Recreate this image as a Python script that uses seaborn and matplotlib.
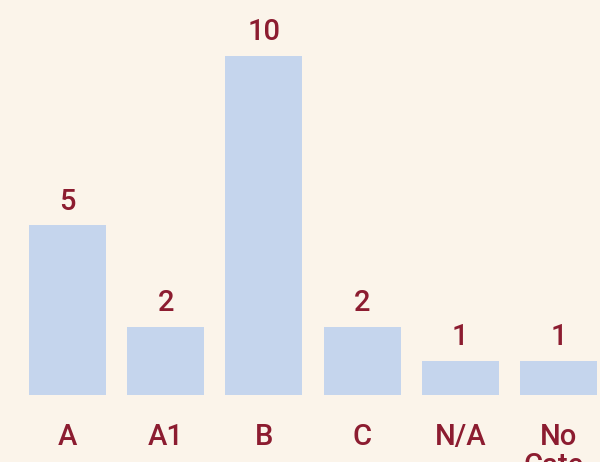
import matplotlib
matplotlib.use('Agg')
import matplotlib.pyplot as plt
import seaborn as sns
import pandas as pd

# categories and counts
categories = ['A', 'A1', 'B', 'C', 'N/A', 'No\nCate-\ngory']
counts = [5, 2, 10, 2, 1, 1]

bg = '#FBF4EA'
bar_col = '#C5D5ED'
txt_col = '#8C1C30'

sns.set_style('white')
plt.rcParams['font.family'] = ['Roboto', 'DejaVu Sans']

df = pd.DataFrame({'category': categories, 'count': counts})

fig = plt.figure(figsize=(6, 4.62), dpi=100, facecolor=bg)
# axes runs a bit past the right edge, like the reference crop
ax = fig.add_axes([18.4 / 600, 67 / 462, 589.2 / 600, 373 / 462])
ax.set_facecolor(bg)

sns.barplot(data=df, x='category', y='count', color=bar_col, width=0.784,
            saturation=1, linewidth=0, edgecolor='none', ax=ax)

ax.bar_label(ax.containers[0], labels=[str(c) for c in counts], padding=7,
             fontsize=21, fontweight='medium', color=txt_col)

ax.set_xlim(-0.5, 5.5)
ax.set_ylim(0, 11)
ax.set_xlabel('')
ax.set_ylabel('')
ax.set_yticks([])
ax.tick_params(axis='x', length=0, pad=20, labelsize=21, labelcolor=txt_col)
for lbl in ax.get_xticklabels():
    lbl.set_verticalalignment('top')
    lbl.set_fontweight('medium')
    lbl.set_linespacing(1.05)
sns.despine(ax=ax, left=True, bottom=True)

fig.savefig('out.png', dpi=100, facecolor=bg)
